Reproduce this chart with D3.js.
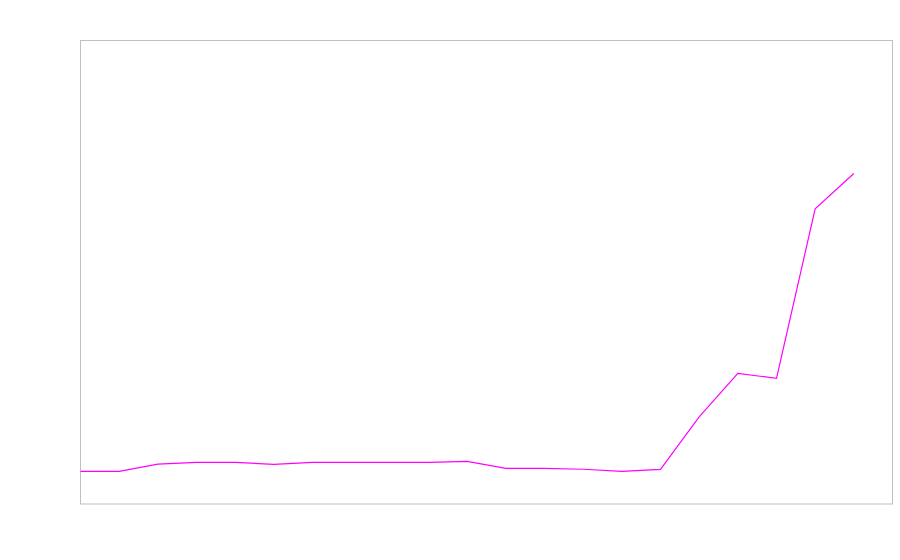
<!DOCTYPE html>
<html lang="en">
<head>
    <meta charset="UTF-8">
    <title>Line chart</title>
    <script src="https://d3js.org/d3.v7.min.js"></script>
    <style>
        body { margin: 0; background: #ffffff; }
        svg { display: block; }
    </style>
</head>
<body>
<svg width="900" height="560"></svg>
<script>
    // Values (arbitrary units, 0-100 scale)
    const steps = d3.range(21);
    const values = [7.05, 7.05, 8.6, 9.0, 9.0, 8.55, 9.0, 9.0, 9.0, 9.0, 9.2,
                    7.7, 7.7, 7.5, 7.05, 7.45, 18.8, 28.2, 27.1, 63.7, 71.3];

    const svg = d3.select("svg");
    const plotLeft = 80.5, plotRight = 892.5, plotTop = 40.5, plotBottom = 504;

    const x = d3.scaleLinear().domain([0, 21]).range([plotLeft, plotRight]);
    const y = d3.scaleLinear().domain([0, 100]).range([plotBottom, plotTop]);

    // frame
    svg.append("rect")
        .attr("x", plotLeft)
        .attr("y", plotTop)
        .attr("width", plotRight - plotLeft)
        .attr("height", plotBottom - plotTop)
        .attr("fill", "none")
        .attr("stroke", "#bfbfbf")
        .attr("stroke-width", 1);

    const line = d3.line()
        .x((d, i) => x(steps[i]))
        .y(d => y(d));

    svg.append("path")
        .datum(values)
        .attr("d", line)
        .attr("fill", "none")
        .attr("stroke", "#ff00ff")
        .attr("stroke-width", 1.2);
</script>
</body>
</html>
